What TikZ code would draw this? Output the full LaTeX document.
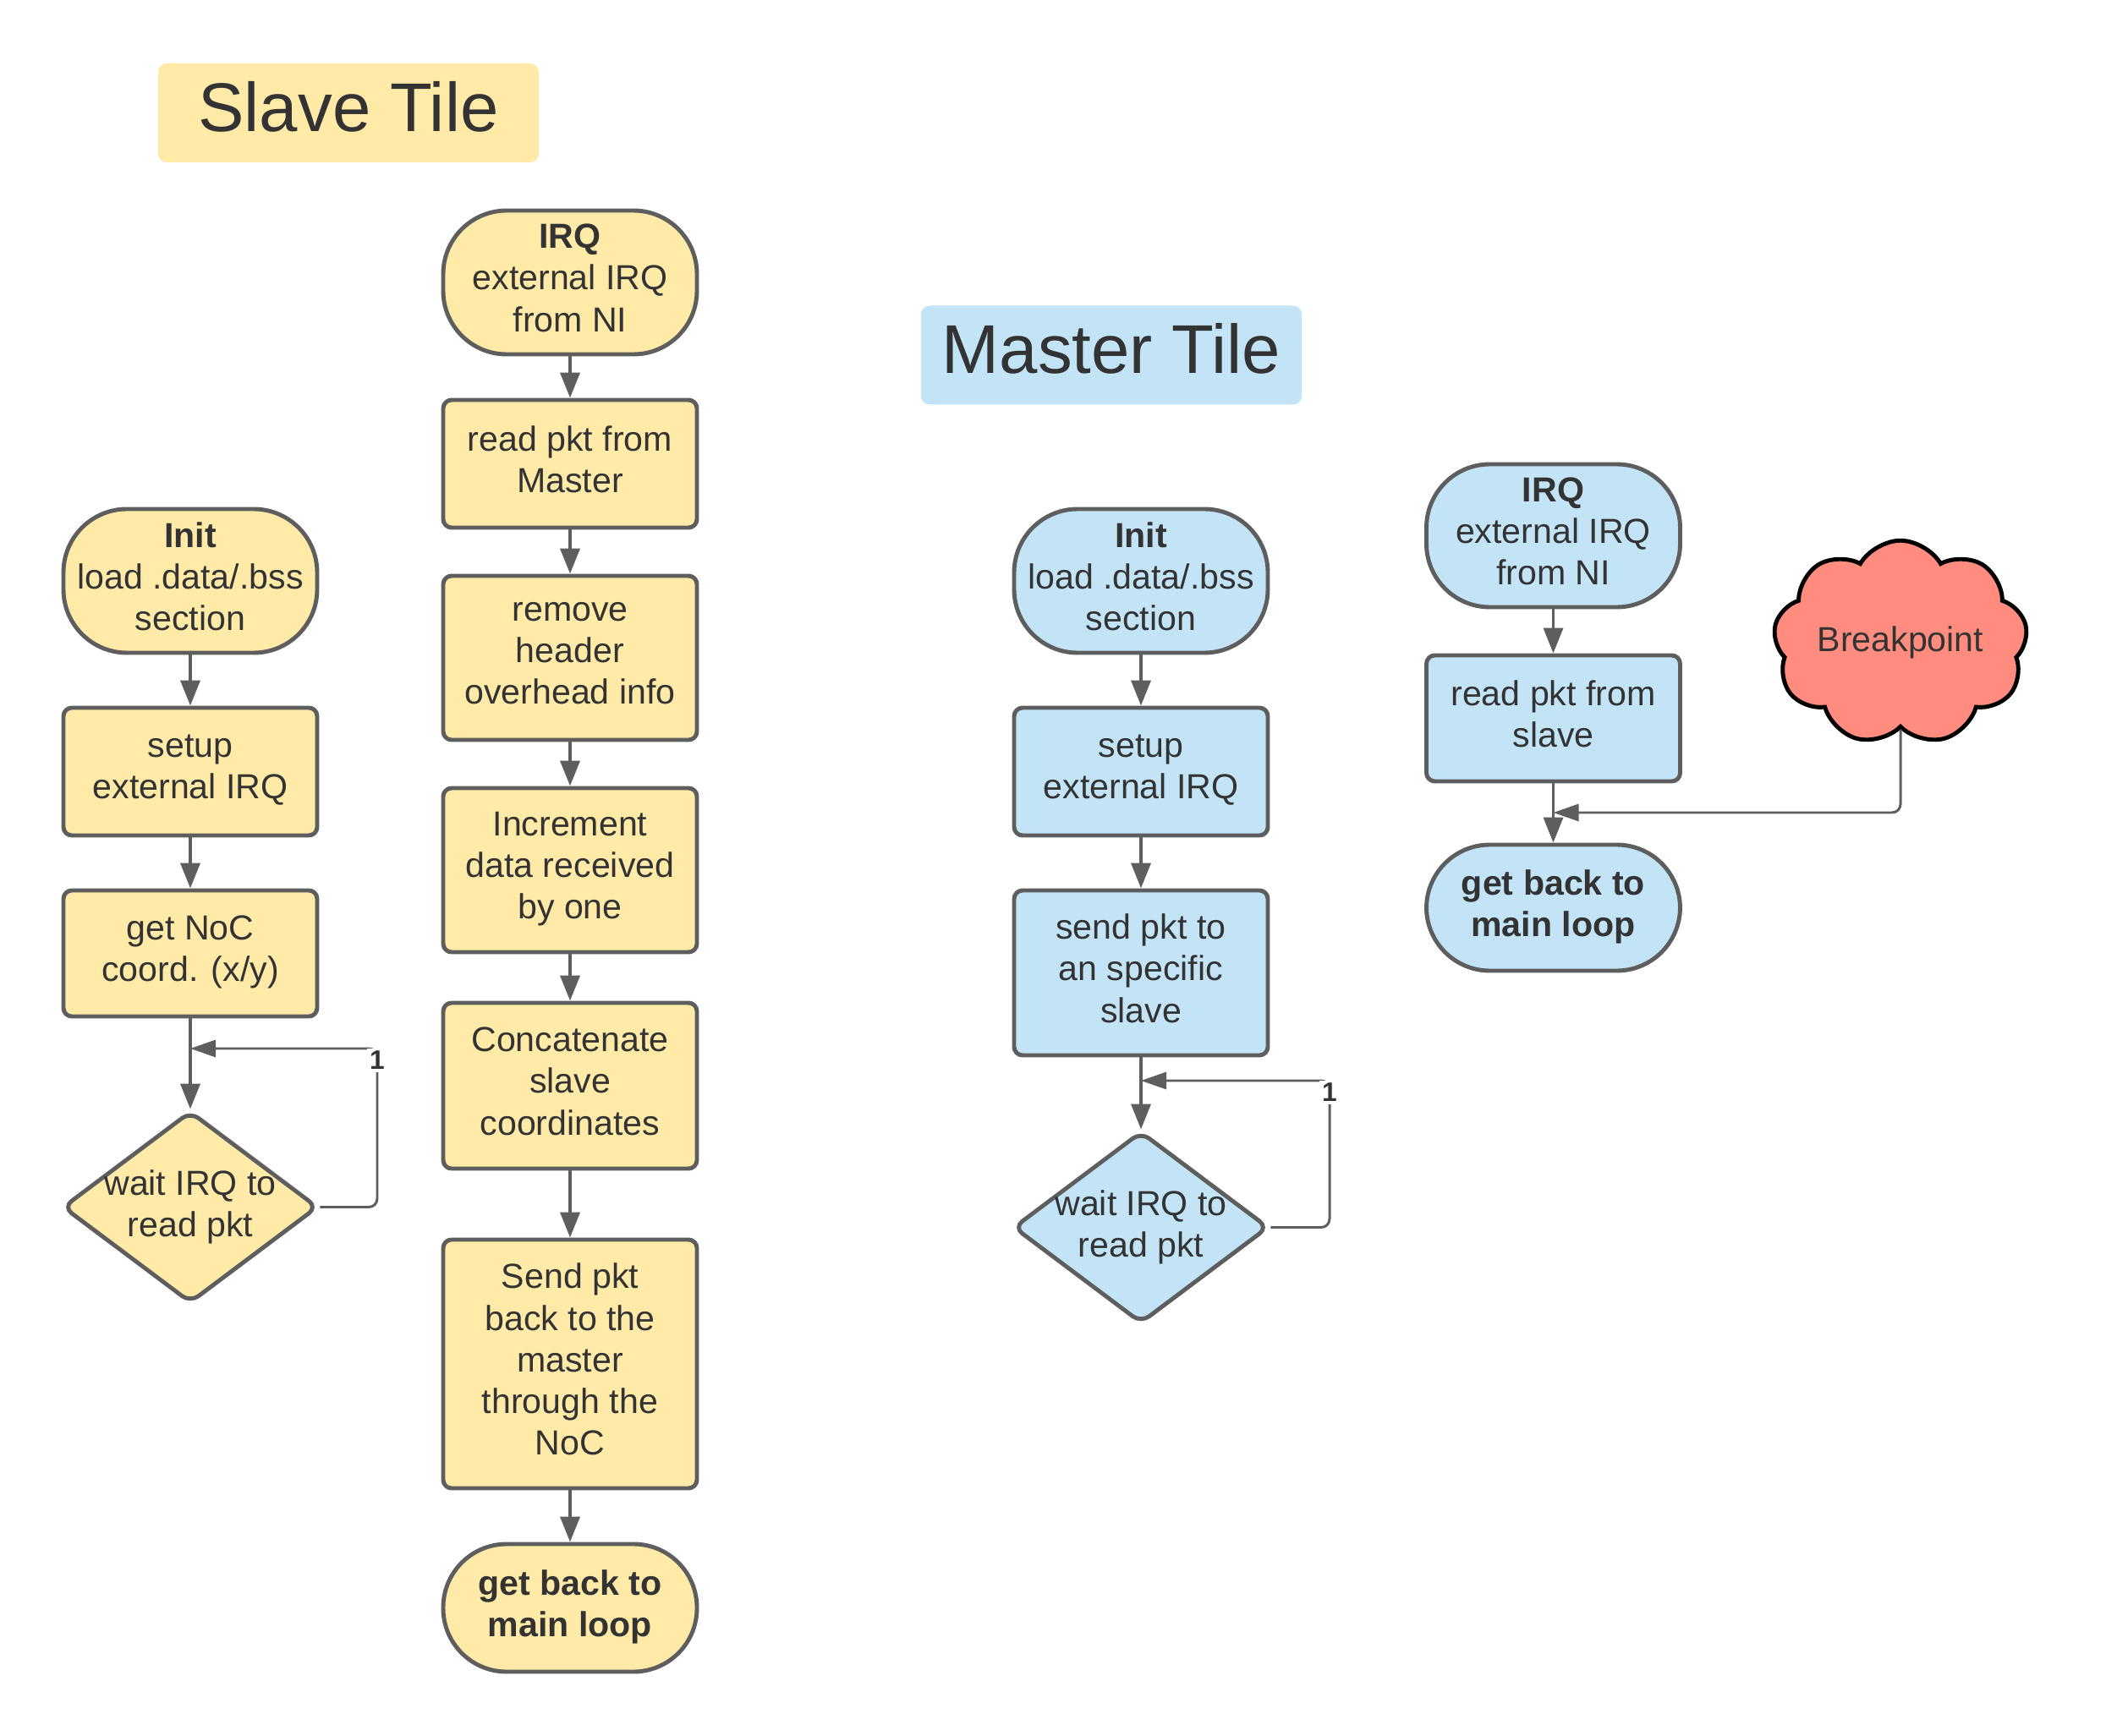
\documentclass[tikz,border=0pt]{standalone}
\usepackage{fontspec}
\setmainfont{Liberation Sans}
\usepackage{xcolor}
\usepackage{tikz}
\usetikzlibrary{arrows.meta,shapes.geometric,shapes.symbols}

\definecolor{slavefill}{HTML}{FFEAA7}
\definecolor{masterfill}{HTML}{C2E4F6}
\definecolor{edgegray}{HTML}{5E5E5E}
\definecolor{textgray}{HTML}{333333}
\definecolor{breakred}{HTML}{FF8C7E}

\begin{document}
\begin{tikzpicture}[
    every node/.style={text=textgray, font=\fontsize{11.7}{14}\selectfont, align=center},
    procbox/.style={draw=edgegray, line width=1.4pt, rounded corners=0.1cm, minimum width=3cm, inner sep=0pt, text depth=0.11cm},
    termbox/.style={procbox, rounded corners=0.75cm},
    waitbox/.style={draw=edgegray, line width=1.4pt, shape=diamond, rounded corners=0.12cm, minimum width=3.02cm, minimum height=2.27cm, inner sep=0pt},
    titlebox/.style={rounded corners=0.1cm, minimum width=4.5cm, minimum height=1.17cm, text depth=0.16cm, font=\fontsize{23.2}{28}\selectfont},
    flow/.style={draw=edgegray, line width=1.1pt, -{Triangle[width=0.23cm,length=0.3cm]}},
    loopline/.style={draw=edgegray, line width=0.85pt, rounded corners=0.1cm, -{Triangle[width=0.2cm,length=0.3cm]}},
    onelabel/.style={fill=white, inner sep=1pt, font=\bfseries\fontsize{9}{10}\selectfont}
]
    \useasboundingbox (0,0) rectangle (24.9,-20.53);

    % Slave tile
    \node[titlebox, fill=slavefill] (slaveTitle) at (4.12,-1.335) {Slave Tile};

    \node[termbox, fill=slavefill, minimum height=1.70cm] (sInit) at (2.25,-6.87) {\textbf{Init}\\load .data/.bss\\section};
    \node[procbox, fill=slavefill, minimum height=1.51cm] (sSetup) at (2.25,-9.125) {setup\\external IRQ};
    \node[procbox, fill=slavefill, minimum height=1.49cm] (sCoord) at (2.25,-11.275) {get NoC\\coord. (x/y)};
    \node[waitbox, fill=slavefill, label={[align=center]center:wait IRQ to\\read pkt}] (sWait) at (2.25,-14.275) {};
    \coordinate (sLoop) at (4.46,-12.40);

    \node[termbox, fill=slavefill, minimum height=1.70cm] (sIrq) at (6.74,-3.34) {\textbf{IRQ}\\external IRQ\\from NI};
    \node[procbox, fill=slavefill, minimum height=1.51cm] (sRead) at (6.74,-5.485) {read pkt from\\Master};
    \node[procbox, fill=slavefill, minimum height=1.94cm] (sStrip) at (6.74,-7.78) {remove\\header\\overhead info};
    \node[procbox, fill=slavefill, minimum height=1.94cm] (sInc) at (6.74,-10.29) {Increment\\data received\\by one};
    \node[procbox, fill=slavefill, minimum height=1.96cm] (sConcat) at (6.74,-12.84) {Concatenate\\slave\\coordinates};
    \node[procbox, fill=slavefill, minimum height=2.94cm] (sSend) at (6.74,-16.13) {Send pkt\\back to the\\master\\through the\\NoC};
    \node[termbox, fill=slavefill, minimum height=1.51cm] (sBack) at (6.74,-19.015) {\textbf{get back to}\\\textbf{main loop}};

    \foreach \a/\b in {sInit/sSetup, sSetup/sCoord, sCoord/sWait, sIrq/sRead, sRead/sStrip, sStrip/sInc, sInc/sConcat, sConcat/sSend, sSend/sBack}
        \draw[flow] (\a) -- (\b);
    \draw[loopline] (sWait.east) -| (sLoop) -- (sLoop -| sCoord.south);
    \node[onelabel] (sOne) at ([yshift=-0.14cm]sLoop) {1};

    % Master tile
    \node[titlebox, fill=masterfill] (masterTitle) at (13.14,-4.20) {Master Tile};

    \node[termbox, fill=masterfill, minimum height=1.70cm] (mInit) at (13.49,-6.87) {\textbf{Init}\\load .data/.bss\\section};
    \node[procbox, fill=masterfill, minimum height=1.51cm] (mSetup) at (13.49,-9.125) {setup\\external IRQ};
    \node[procbox, fill=masterfill, minimum height=1.95cm] (mSend) at (13.49,-11.505) {send pkt to\\an specific\\slave};
    \node[waitbox, fill=masterfill, label={[align=center]center:wait IRQ to\\read pkt}] (mWait) at (13.49,-14.515) {};
    \coordinate (mLoop) at (15.72,-12.78);

    \node[termbox, fill=masterfill, minimum height=1.69cm] (mIrq) at (18.365,-6.335) {\textbf{IRQ}\\external IRQ\\from NI};
    \node[procbox, fill=masterfill, minimum height=1.49cm] (mRead) at (18.365,-8.495) {read pkt from\\slave};
    \node[termbox, fill=masterfill, minimum height=1.49cm] (mBack) at (18.365,-10.735) {\textbf{get back to}\\\textbf{main loop}};
    \node[cloud, cloud puffs=9, cloud puff arc=120, aspect=1.4, draw=black, line width=1.4pt, fill=breakred,
          minimum width=3.0cm, minimum height=2.15cm, inner sep=0pt] (brk) at (22.47,-7.60) {Breakpoint};
    \coordinate (brkJoin) at (18.365,-9.61);

    \foreach \a/\b in {mInit/mSetup, mSetup/mSend, mSend/mWait, mIrq/mRead, mRead/mBack}
        \draw[flow] (\a) -- (\b);
    \draw[loopline] (mWait.east) -| (mLoop) -- (mLoop -| mSend.south);
    \node[onelabel] (mOne) at ([yshift=-0.14cm]mLoop) {1};
    \draw[loopline] (brk.south) |- (brkJoin);
\end{tikzpicture}
\end{document}
